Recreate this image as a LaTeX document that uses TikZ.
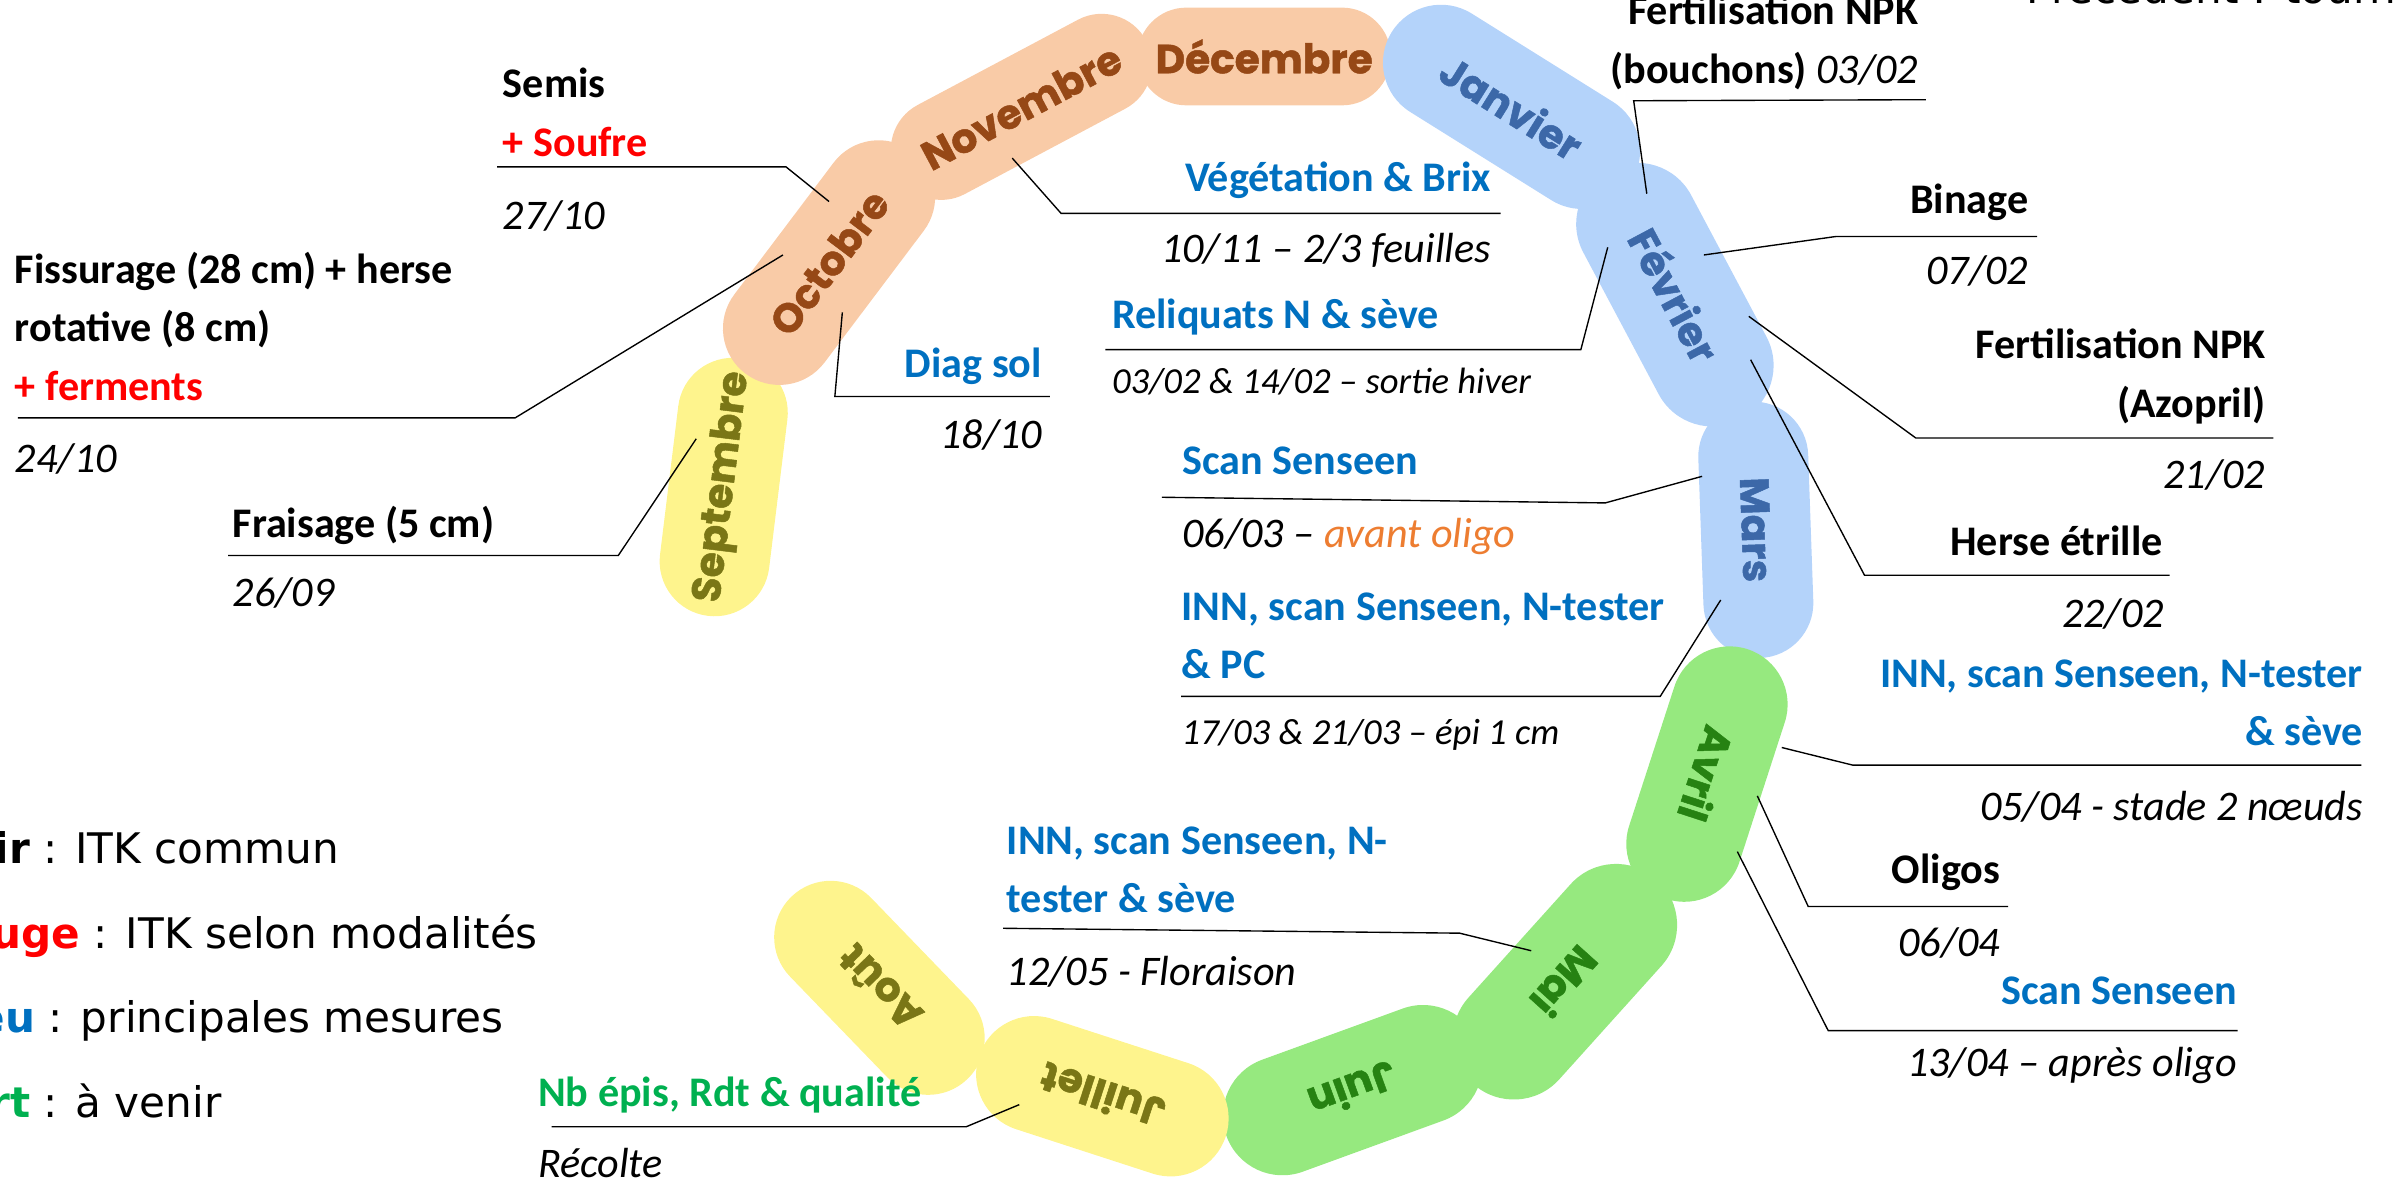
\documentclass[tikz,border=0pt]{standalone}
\usepackage{fontspec}
\setmainfont{Carlito}
\newfontfamily\legfont{DejaVu Sans}
\newfontfamily\monthfont[BoldFeatures={FakeBold=1.2}]{Poppins}

\definecolor{capPeach}{RGB}{249,203,167}
\definecolor{capBlue}{RGB}{180,211,250}
\definecolor{capGreen}{RGB}{150,233,127}
\definecolor{capYellow}{RGB}{254,244,141}
\definecolor{txtBrown}{RGB}{150,72,22}
\definecolor{txtBlue}{RGB}{60,104,168}
\definecolor{txtGreen}{RGB}{38,130,18}
\definecolor{txtOlive}{RGB}{122,118,22}
\definecolor{itkRed}{RGB}{255,0,0}
\definecolor{itkBlue}{RGB}{0,112,192}
\definecolor{itkGreen}{RGB}{0,176,80}
\definecolor{itkOrange}{RGB}{237,125,49}

\begin{document}
\begin{tikzpicture}[
    x=0.5pt, y=-0.5pt,
    capsule/.style n args={3}{rotate=#1, minimum width=#2*0.5pt, minimum height=#3*0.5pt,
        rounded corners=#3*0.25pt, inner sep=0pt,
        font=\monthfont\fontsize{13.3}{14}\selectfont\bfseries},
    peachcap/.style={fill=capPeach, text=txtBrown},
    bluecap/.style={fill=capBlue, text=txtBlue},
    greencap/.style={fill=capGreen, text=txtGreen},
    yellowcap/.style={fill=capYellow, text=txtOlive},
    ttl/.style={font=\fontsize{13.8}{19.2}\selectfont\bfseries, inner sep=0pt},
    mes/.style={ttl, text=itkBlue},
    dat/.style={font=\fontsize{13.8}{19.2}\selectfont\itshape, inner sep=0pt},
    sdat/.style={font=\fontsize{12}{16}\selectfont\itshape, inner sep=0pt},
    leg/.style={font=\legfont\fontsize{13.8}{16}\selectfont, inner sep=0pt, anchor=base west},
    lead/.style={line width=0.45pt}
]
\useasboundingbox (0,0) rectangle (1568,774);

% the months
\node[capsule={83}{170}{72}, yellowcap] (sep) at (474,319) {Septembre};
\node[capsule={53}{182}{74}, peachcap] (oct) at (543,172) {Octobre};
\node[capsule={28}{185}{66}, peachcap] (nov) at (669,70) {Novembre};
\node[capsule={0}{166}{64}, peachcap] (dec) at (828,37) {Décembre};
\node[capsule={-32}{185}{76}, bluecap] (jan) at (990,70) {Janvier};
\node[capsule={-62}{185}{80}, bluecap] (fev) at (1097,193) {Février};
\node[capsule={-88}{168}{72}, bluecap] (mar) at (1150,347) {Mars};
\node[capsule={-108}{172}{76}, greencap] (avr) at (1118,507) {Avril};
\node[capsule={-132}{180}{80}, greencap] (mai) at (1025,643) {Mai};
\node[capsule={-160}{176}{78}, greencap] (juin) at (886,714) {Juin};
\node[capsule={162}{170}{76}, yellowcap] (juil) at (722,718) {Juillet};
\node[capsule={134}{166}{74}, yellowcap] (aout) at (576,647) {Août};

% autumn work
\node[ttl, align=left, anchor=south west] (semis) at (329,103) {Semis\\\textcolor{itkRed}{+ Soufre}};
\node[dat, anchor=base west] (semisd) at (329,150) {27/10};
\coordinate (semisA) at (325.6,109.3);
\coordinate (semisB) at (514.8,109.3);
\coordinate (semisC) at (543,132);
\draw[lead] (semisA) -- (semisB) -- (semisC);

\node[ttl, align=left, anchor=south west] (fiss) at (9.4,262.8) {Fissurage (28 cm) + herse\\rotative (8 cm)\\\textcolor{itkRed}{+ ferments}};
\node[dat, anchor=base west] (fissd) at (9.4,309.4) {24/10};
\coordinate (fissA) at (11.7,273.7);
\coordinate (fissB) at (337.4,273.7);
\coordinate (fissC) at (512.8,167);
\draw[lead] (fissA) -- (fissB) -- (fissC);

\node[ttl, anchor=base west] (frais) at (152,352) {Fraisage (5 cm)};
\node[dat, anchor=base west] (fraisd) at (152,397.5) {26/09};
\coordinate (fraisA) at (149.4,363.8);
\coordinate (fraisB) at (405,363.8);
\coordinate (fraisC) at (456,287.4);
\draw[lead] (fraisA) -- (fraisB) -- (fraisC);

\node[mes, anchor=base east] (diag) at (682.8,247.3) {Diag sol};
\node[dat, anchor=base east] (diagd) at (682.9,293.9) {18/10};
\coordinate (diagA) at (687.6,259.7);
\coordinate (diagB) at (546.8,259.7);
\coordinate (diagC) at (551.7,204.6);
\draw[lead] (diagA) -- (diagB) -- (diagC);

\node[mes, anchor=base east] (vege) at (977,125.6) {Végétation \& Brix};
\node[dat, anchor=base east] (veged) at (977,172) {10/11 – 2/3 feuilles};
\coordinate (vegeA) at (982.8,139.8);
\coordinate (vegeB) at (695,139.8);
\coordinate (vegeC) at (663,103.6);
\draw[lead] (vegeA) -- (vegeB) -- (vegeC);

% winter and spring
\node[mes, anchor=base west] (reli) at (728,215) {Reliquats N \& sève};
\node[sdat, anchor=base west] (relid) at (728,257.6) {03/02 \& 14/02 – sortie hiver};
\coordinate (reliA) at (724,229);
\coordinate (reliB) at (1035.4,229);
\coordinate (reliC) at (1053,162);
\draw[lead] (reliA) -- (reliB) -- (reliC);

\node[mes, anchor=base west] (scanm) at (774,310.7) {Scan Senseen};
\node[dat, anchor=base west] (scanmd) at (774,358.6) {06/03 – \textcolor{itkOrange}{avant oligo}};
\coordinate (scanmA) at (761,325.7);
\coordinate (scanmB) at (1051.4,329.4);
\coordinate (scanmC) at (1114.8,312);
\draw[lead] (scanmA) -- (scanmB) -- (scanmC);

\node[mes, align=left, anchor=south west] (innpc) at (773.6,445.2) {INN, scan Senseen, N-tester\\\& PC};
\node[sdat, anchor=base west] (innpcd) at (773.6,487.7) {17/03 \& 21/03 – épi 1 cm};
\coordinate (innpcA) at (773.6,456.1);
\coordinate (innpcB) at (1087.4,456.1);
\coordinate (innpcC) at (1127,393);
\draw[lead] (innpcA) -- (innpcB) -- (innpcC);

\node[mes, align=left, anchor=south west] (innmai) at (659,598.4) {INN, scan Senseen, N-\\tester \& sève};
\node[dat, anchor=base west] (innmaid) at (659,645.7) {12/05 - Floraison};
\coordinate (innmaiA) at (657,608);
\coordinate (innmaiB) at (956,611.2);
\coordinate (innmaiC) at (1002.9,622.7);
\draw[lead] (innmaiA) -- (innmaiB) -- (innmaiC);

\node[ttl, text=itkGreen, anchor=base west] (recol) at (352.1,724.7) {Nb épis, Rdt \& qualité};
\node[dat, anchor=base west] (recold) at (352,770.9) {Récolte};
\coordinate (recolA) at (361.3,738);
\coordinate (recolB) at (632.8,738);
\coordinate (recolC) at (667.6,723.5);
\draw[lead] (recolA) -- (recolB) -- (recolC);

% right side
\node[ttl, align=right, anchor=south east] (fertb) at (1256.8,59) {Fertilisation NPK\\(bouchons) \textmd{\itshape 03/02}};
\coordinate (fertbA) at (1261.4,65.3);
\coordinate (fertbB) at (1070,66);
\coordinate (fertbC) at (1078.6,126.9);
\draw[lead] (fertbA) -- (fertbB) -- (fertbC);

\node[ttl, anchor=base east] (binage) at (1328.8,139.8) {Binage};
\node[dat, anchor=base east] (binaged) at (1328.8,186.4) {07/02};
\coordinate (binageA) at (1334.3,154.9);
\coordinate (binageB) at (1202.5,154.9);
\coordinate (binageC) at (1116,167);
\draw[lead] (binageA) -- (binageB) -- (binageC);

\node[ttl, align=right, anchor=south east] (fertaz) at (1484.4,277.9) {Fertilisation NPK\\(Azopril)};
\node[dat, anchor=base east] (fertazd) at (1484,319.8) {21/02};
\coordinate (fertazA) at (1489,286.9);
\coordinate (fertazB) at (1254.8,286.9);
\coordinate (fertazC) at (1145.4,207.2);
\draw[lead] (fertazA) -- (fertazB) -- (fertazC);

\node[ttl, anchor=base east] (herse) at (1417,363.8) {Herse étrille};
\node[dat, anchor=base east] (hersed) at (1417.6,411) {22/02};
\coordinate (herseA) at (1421,376.8);
\coordinate (herseB) at (1221.2,376.8);
\coordinate (herseC) at (1146.6,235.6);
\draw[lead] (herseA) -- (herseB) -- (herseC);

\node[mes, align=right, anchor=south east] (innavr) at (1548,489) {INN, scan Senseen, N-tester\\\& sève};
\node[dat, anchor=base east] (innavrd) at (1548,537.6) {05/04 - stade 2 nœuds};
\coordinate (innavrA) at (1546.6,501.1);
\coordinate (innavrB) at (1213.3,501.1);
\coordinate (innavrC) at (1167,489.6);
\draw[lead] (innavrA) -- (innavrB) -- (innavrC);

\node[ttl, anchor=base east] (oligo) at (1310.4,578.9) {Oligos};
\node[dat, anchor=base east] (oligod) at (1310.4,626.3) {06/04};
\coordinate (oligoA) at (1315.3,593.7);
\coordinate (oligoB) at (1184.3,593.7);
\coordinate (oligoC) at (1151,521.3);
\draw[lead] (oligoA) -- (oligoB) -- (oligoC);

\node[mes, anchor=base east] (scana) at (1465.5,657.9) {Scan Senseen};
\node[dat, anchor=base east] (scanad) at (1465.5,705.3) {13/04 – après oligo};
\coordinate (scanaA) at (1465.5,675);
\coordinate (scanaB) at (1197.4,675);
\coordinate (scanaC) at (1137.9,557.8);
\draw[lead] (scanaA) -- (scanaB) -- (scanaC);

% legend and previous crop
\node[leg] (legnoir) at (-46,565.5) {\textbf{Noir} : ITK commun};
\node[leg] (legrouge) at (-46,621.4) {\textbf{\textcolor{itkRed}{Rouge}} : ITK selon modalités};
\node[leg] (legbleu) at (-46,676.1) {\textbf{\textcolor{itkBlue}{Bleu}} : principales mesures};
\node[leg] (legvert) at (-46,732) {\textbf{\textcolor{itkGreen}{Vert}} : à venir};
\node[leg] (prec) at (1327,2) {Précédent : tournesol};
\end{tikzpicture}
\end{document}
